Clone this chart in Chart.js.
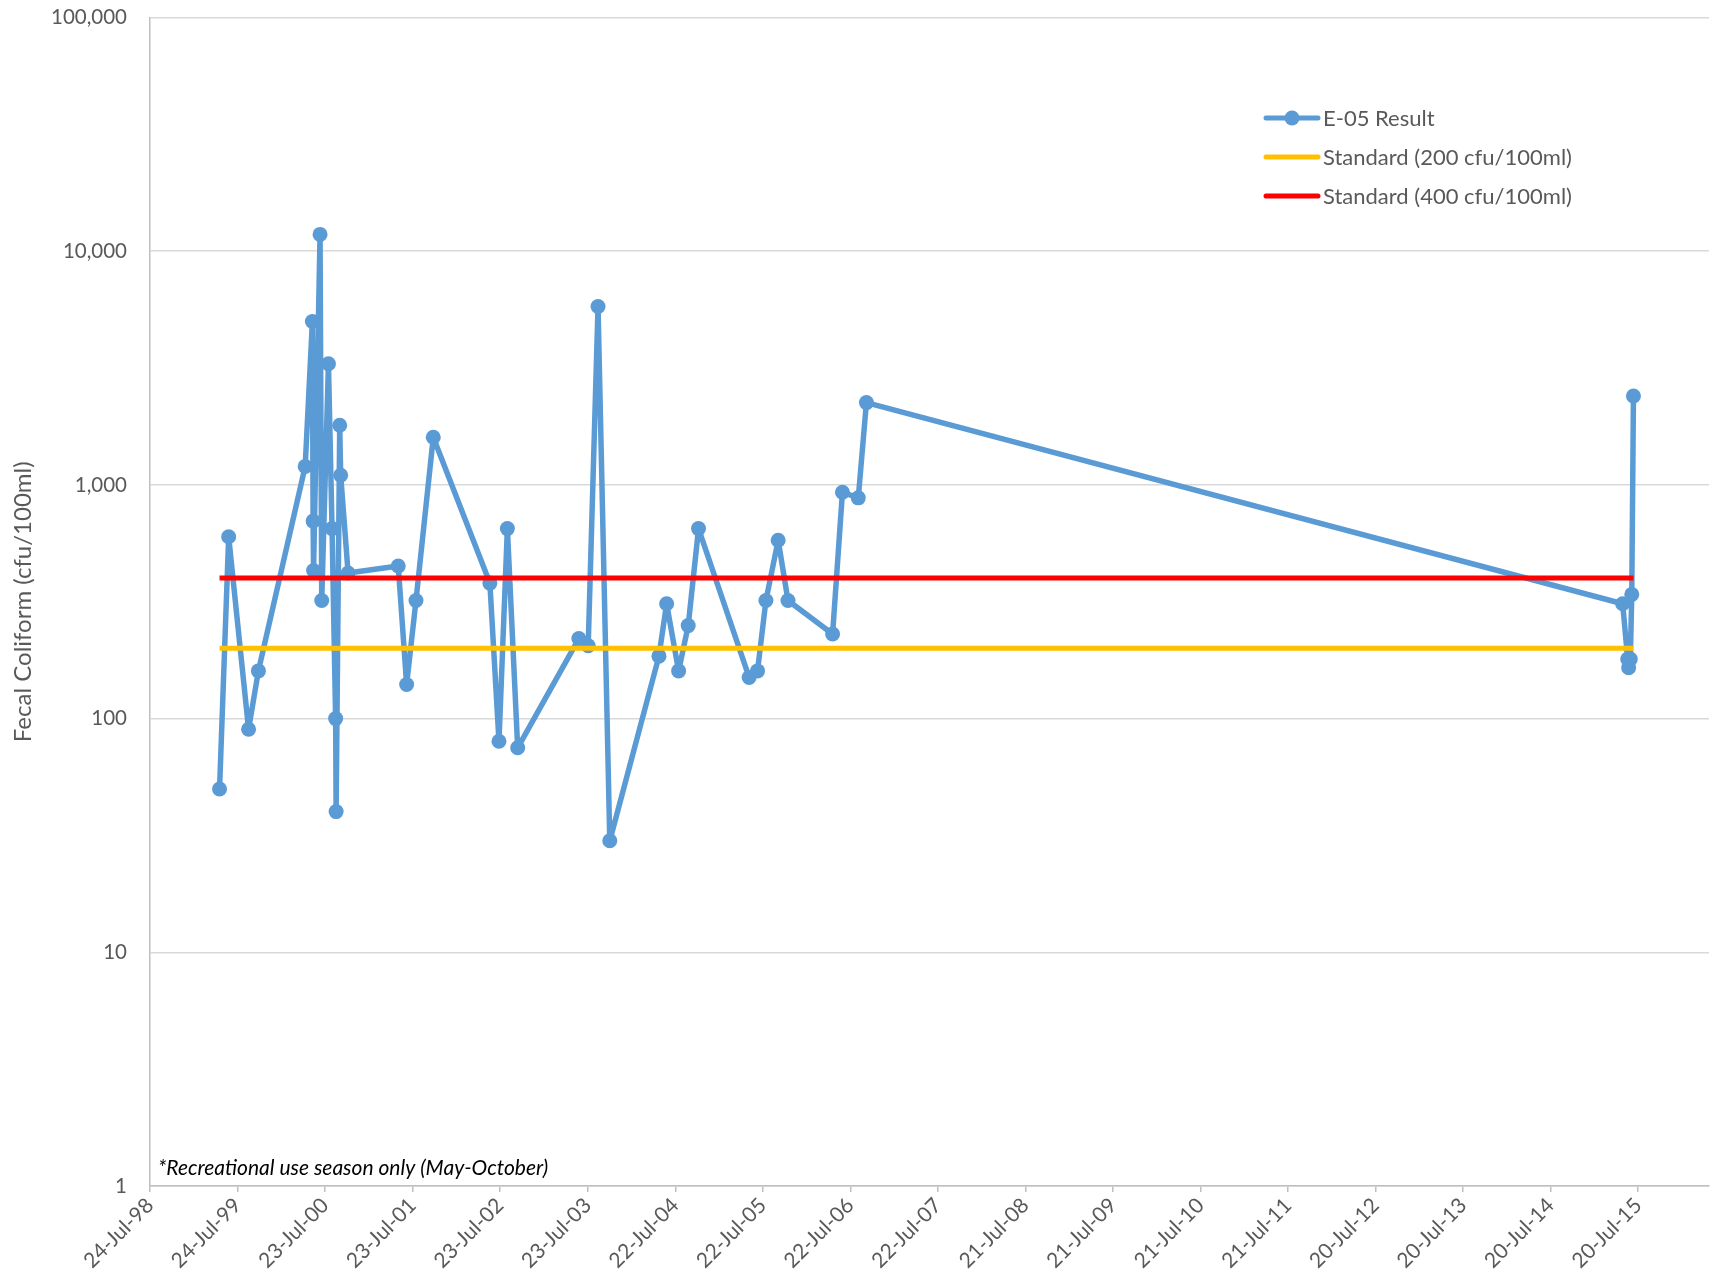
<!DOCTYPE html>
<html>
<head>
<meta charset="utf-8">
<script src="https://cdn.jsdelivr.net/npm/chart.js@4.4.1/dist/chart.umd.min.js"></script>
<style>
  html, body { margin: 0; padding: 0; background: #fff; }
  #wrap { width: 1712px; height: 1285px; position: relative; }
</style>
</head>
<body>
<div id="wrap"><canvas id="chart"></canvas></div>
<script>
// sample dates and fecal coliform results (cfu/100ml) for station E-05
const sampleDates = [
  '1999-05-10', '1999-06-17', '1999-09-08', '1999-10-19',
  '2000-05-01', '2000-05-31', '2000-06-03', '2000-06-05', '2000-07-02', '2000-07-09',
  '2000-08-06', '2000-08-21', '2000-09-05', '2000-09-07', '2000-09-22', '2000-09-26', '2000-10-27',
  '2001-05-24', '2001-06-28', '2001-08-06', '2001-10-17',
  '2002-06-10', '2002-07-18', '2002-08-22', '2002-10-04',
  '2003-06-16', '2003-07-25', '2003-09-04', '2003-10-23',
  '2004-05-15', '2004-06-16', '2004-08-05', '2004-09-14', '2004-10-27',
  '2005-05-26', '2005-06-30', '2005-08-04', '2005-09-24', '2005-11-04',
  '2006-05-09', '2006-06-19', '2006-08-24', '2006-09-27',
  '2015-05-16', '2015-06-06', '2015-06-10', '2015-06-17', '2015-06-23', '2015-06-30'
];
const e05Results = [
  50, 600, 90, 160,
  1200, 5000, 700, 430, 11800, 320,
  3300, 650, 100, 40, 1800, 1100, 420,
  450, 140, 320, 1600,
  380, 80, 650, 75,
  220, 205, 5800, 30,
  185, 310, 160, 250, 650,
  150, 160, 320, 580, 320,
  230, 930, 880, 2250,
  310, 180, 165, 180, 340, 2400
];
const standard200 = 200;
const standard400 = 400;

const xTickLabels = [
  '24-Jul-98', '24-Jul-99', '23-Jul-00', '23-Jul-01', '23-Jul-02', '23-Jul-03',
  '22-Jul-04', '22-Jul-05', '22-Jul-06', '22-Jul-07', '21-Jul-08', '21-Jul-09',
  '21-Jul-10', '21-Jul-11', '20-Jul-12', '20-Jul-13', '20-Jul-14', '20-Jul-15'
];
const xAxisMin = '1998-07-24';
const xAxisMax = '2016-05-10';
const yTicks = [1, 10, 100, 1000, 10000, 100000];

const seriesNames = ['E-05 Result', 'Standard (200 cfu/100ml)', 'Standard (400 cfu/100ml)'];
const note = '*Recreational use season only (May-October)';

const MONTHS = ['Jan', 'Feb', 'Mar', 'Apr', 'May', 'Jun', 'Jul', 'Aug', 'Sep', 'Oct', 'Nov', 'Dec'];

function dayNum(iso) {
  const [y, m, d] = iso.split('-').map(Number);
  return Date.UTC(y, m - 1, d) / 864e5;
}
function labelDay(lbl) {
  const [d, mon, yy] = lbl.split('-');
  const y = Number(yy) > 50 ? 1900 + Number(yy) : 2000 + Number(yy);
  return Date.UTC(y, MONTHS.indexOf(mon), Number(d)) / 864e5;
}

const points = sampleDates.map((d, i) => ({ x: dayNum(d), y: e05Results[i] }));
const firstDay = points[0].x;
const lastDay = points[points.length - 1].x;
const xTickValues = xTickLabels.map(labelDay);

const BLUE = '#5B9BD5', YELLOW = '#FFC000', RED = '#FF0000';
const GREY_TEXT = '#595959';
const FONT = 'Lato';

// legend in the upper right and the footnote, drawn over the plot
const extrasPlugin = {
  id: 'extras',
  afterDraw(chart) {
    const ctx = chart.ctx;
    const items = [
      { text: seriesNames[0], color: BLUE, marker: true },
      { text: seriesNames[1], color: YELLOW },
      { text: seriesNames[2], color: RED }
    ];
    ctx.save();
    ctx.font = '22px ' + FONT;
    ctx.textBaseline = 'middle';
    ctx.textAlign = 'left';
    items.forEach((it, i) => {
      const y = 118 + i * 39;
      ctx.strokeStyle = it.color;
      ctx.lineWidth = 5;
      ctx.lineCap = 'round';
      ctx.beginPath();
      ctx.moveTo(1266, y);
      ctx.lineTo(1318, y);
      ctx.stroke();
      if (it.marker) {
        ctx.fillStyle = it.color;
        ctx.beginPath();
        ctx.arc(1292, y, 7.5, 0, Math.PI * 2);
        ctx.fill();
      }
      ctx.fillStyle = GREY_TEXT;
      ctx.fillText(it.text, 1323, y + 1);
    });
    ctx.font = 'italic 21px ' + FONT;
    ctx.fillStyle = '#000';
    ctx.fillText(note, 158, 1168);
    ctx.restore();
  }
};

new Chart(document.getElementById('chart'), {
  type: 'line',
  data: {
    datasets: [
      {
        label: seriesNames[1],
        data: [{ x: firstDay, y: standard200 }, { x: lastDay, y: standard200 }],
        borderColor: YELLOW,
        borderWidth: 5,
        pointRadius: 0,
        order: 1
      },
      {
        label: seriesNames[2],
        data: [{ x: firstDay, y: standard400 }, { x: lastDay, y: standard400 }],
        borderColor: RED,
        borderWidth: 5,
        pointRadius: 0,
        order: 1
      },
      {
        label: seriesNames[0],
        data: points,
        borderColor: BLUE,
        backgroundColor: BLUE,
        borderWidth: 5.5,
        borderJoinStyle: 'round',
        borderCapStyle: 'round',
        pointRadius: 7.5,
        pointBorderWidth: 0,
        pointBackgroundColor: BLUE,
        tension: 0,
        order: 2
      }
    ]
  },
  options: {
    responsive: true,
    maintainAspectRatio: false,
    animation: false,
    layout: { autoPadding: false, padding: { top: 17.5, right: 3, left: 0, bottom: 0 } },
    plugins: {
      legend: { display: false },
      tooltip: { enabled: false }
    },
    scales: {
      x: {
        type: 'linear',
        min: dayNum(xAxisMin),
        max: dayNum(xAxisMax),
        afterBuildTicks(scale) {
          scale.ticks = xTickValues.map(v => ({ value: v }));
        },
        afterFit(scale) { scale.height = 99; },
        grid: {
          drawOnChartArea: false,
          drawTicks: true,
          tickLength: 6,
          color: '#BFBFBF',
          lineWidth: 1.5
        },
        border: { color: '#BFBFBF', width: 1.5 },
        ticks: {
          autoSkip: false,
          maxRotation: 45,
          minRotation: 45,
          padding: 1,
          color: GREY_TEXT,
          font: { family: FONT, size: 21 },
          callback: (v) => {
            const i = xTickValues.indexOf(v);
            return i >= 0 ? xTickLabels[i] : '';
          }
        }
      },
      y: {
        type: 'logarithmic',
        min: yTicks[0],
        max: yTicks[yTicks.length - 1],
        afterBuildTicks(scale) {
          scale.ticks = yTicks.map(v => ({ value: v }));
        },
        afterFit(scale) { scale.width = 150; },
        grid: {
          color: '#D9D9D9',
          lineWidth: 1.5,
          drawTicks: true,
          tickLength: 23,
          tickColor: 'rgba(0,0,0,0)'
        },
        border: { color: '#BFBFBF', width: 1.5 },
        ticks: {
          padding: 0,
          color: GREY_TEXT,
          font: { family: FONT, size: 20.5 },
          callback: (v) => Number(v).toLocaleString('en-US')
        },
        title: {
          display: true,
          text: 'Fecal Coliform (cfu/100ml)',
          color: GREY_TEXT,
          font: { family: FONT, size: 24 },
          padding: { top: 9, bottom: 0 }
        }
      }
    }
  },
  plugins: [extrasPlugin]
});
</script>
</body>
</html>
